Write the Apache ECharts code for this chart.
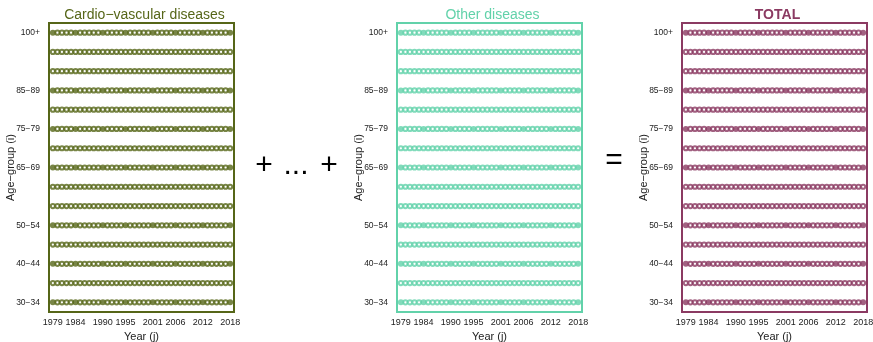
<!DOCTYPE html>
<html>
<head>
<meta charset="utf-8">
<script src="https://cdn.jsdelivr.net/npm/echarts@6/dist/echarts.min.js"></script>
<style>
    html, body { margin: 0; padding: 0; background: #fff; }
    #chart { width: 873px; height: 342px; }
</style>
</head>
<body>
<div id="chart"></div>
<script>
// categories
const ageGroups = ['30−34', '35−39', '40−44', '45−49', '50−54', '55−59', '60−64', '65−69',
    '70−74', '75−79', '80−84', '85−89', '90−94', '95−99', '100+'];
const years = [1979, 1980, 1981, 1982, 1983, 1984, 1985, 1986, 1987, 1988,
    1989, 1990, 1991, 1992, 1993, 1994, 1995, 1996, 1997, 1998,
    1999, 2000, 2001, 2002, 2003, 2004, 2005, 2006, 2007, 2008,
    2009, 2010, 2011, 2012, 2013, 2014, 2015, 2016, 2017, 2018];
// tick labels (these rows / columns are drawn as filled points)
const ageLabels = ['30−34', '40−44', '50−54', '65−69', '75−79', '85−89', '100+'];
const yearLabels = [1979, 1984, 1990, 1995, 2001, 2006, 2012, 2018];

const panelTitles = ['Cardio−vascular diseases', 'Other diseases', 'TOTAL'];
const panelColors = ['#566618', '#62d2aa', '#8b3a62'];

const gridLeft = [49, 397, 682];
const gridWidth = 185;

function buildData(filled) {
    let arr = [];
    for (let i = 0; i < ageGroups.length; i++) {
        for (let j = 0; j < years.length; j++) {
            let isFilled = ageLabels.indexOf(ageGroups[i]) >= 0 && yearLabels.indexOf(years[j]) >= 0;
            if (isFilled === filled) arr.push([years[j], ageGroups[i]]);
        }
    }
    return arr;
}

const font = 'Liberation Sans, Arial, sans-serif';
let grid = [], xAxis = [], yAxis = [], series = [], title = [];

for (let p = 0; p < 3; p++) {
    grid.push({
        left: gridLeft[p], top: 23, width: gridWidth, height: 289,
        outerBoundsMode: 'none',
        containLabel: false,
        show: true, borderColor: panelColors[p], borderWidth: 2, backgroundColor: 'transparent'
    });
    title.push({
        text: panelTitles[p],
        left: gridLeft[p] + gridWidth / 2 - 2,
        textAlign: 'center',
        top: 3,
        textStyle: {
            color: panelColors[p], fontFamily: font, fontSize: 14,
            fontWeight: p === 2 ? 'bold' : 'normal'
        }
    });
    xAxis.push({
        gridIndex: p,
        type: 'value',
        min: 1978.15,
        max: 2018.85,
        axisLine: { show: false },
        axisTick: { show: false },
        splitLine: { show: false },
        axisLabel: {
            customValues: yearLabels,
            formatter: (v) => String(v),
            hideOverlap: false,
            color: '#222', fontSize: 9, fontFamily: font, margin: 6
        },
        name: 'Year (j)',
        nameLocation: 'middle',
        nameGap: 19,
        nameMoveOverlap: false,
        nameTextStyle: { color: '#222', fontSize: 11, fontFamily: font }
    });
    yAxis.push({
        gridIndex: p,
        type: 'category',
        data: ageGroups,
        boundaryGap: true,
        axisLine: { show: false },
        axisTick: { show: false },
        splitLine: { show: false },
        axisLabel: {
            interval: (idx, val) => ageLabels.indexOf(val) >= 0,
            color: '#222', fontSize: 8.5, fontFamily: font, margin: 9
        },
        name: 'Age−group (i)',
        nameLocation: 'middle',
        nameGap: 33,
        nameMoveOverlap: false,
        nameTextStyle: { color: '#222', fontSize: 11, fontFamily: font }
    });
    series.push({
        type: 'scatter',
        xAxisIndex: p, yAxisIndex: p,
        symbol: 'emptyCircle',
        symbolSize: 4.2,
        itemStyle: { color: panelColors[p], borderColor: panelColors[p], borderWidth: 0.5 },
        silent: true,
        data: buildData(false)
    });
    series.push({
        type: 'scatter',
        xAxisIndex: p, yAxisIndex: p,
        symbol: 'circle',
        symbolSize: 6,
        itemStyle: { color: panelColors[p] },
        silent: true,
        data: buildData(true)
    });
}

const option = {
    animation: false,
    title: title,
    grid: grid,
    xAxis: xAxis,
    yAxis: yAxis,
    series: series,
    graphic: [
        {
            type: 'text', x: 264, y: 166,
            style: { text: '+', fontSize: 30, fontFamily: font, fill: '#000', align: 'center', verticalAlign: 'middle' }
        },
        {
            type: 'text', x: 296, y: 166,
            style: { text: '...', fontSize: 30, fontFamily: font, fill: '#000', align: 'center', verticalAlign: 'middle' }
        },
        {
            type: 'text', x: 329, y: 166,
            style: { text: '+', fontSize: 30, fontFamily: font, fill: '#000', align: 'center', verticalAlign: 'middle' }
        },
        {
            type: 'text', x: 614, y: 161,
            style: { text: '=', fontSize: 30, fontFamily: font, fill: '#000', align: 'center', verticalAlign: 'middle' }
        }
    ]
};

const myChart = echarts.init(document.getElementById('chart'));
myChart.setOption(option);
</script>
</body>
</html>
